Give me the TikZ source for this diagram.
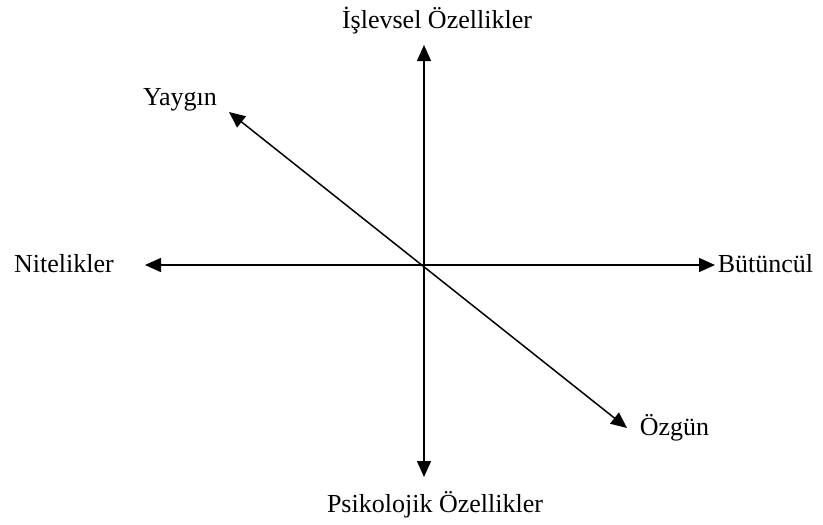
\documentclass[tikz,border=0pt]{standalone}
\usepackage{fontspec}
\setmainfont{Liberation Serif}
\usetikzlibrary{arrows.meta,positioning}

\begin{document}
\begin{tikzpicture}[x=1pt,y=-1pt,>={Triangle[length=16pt,width=14pt]},
  axis/.style={<->,line width=1.5pt},
  lbl/.style={font=\fontsize{26}{30}\selectfont,inner sep=0pt,anchor=base}]
\useasboundingbox (0,0) rectangle (823,525);
\coordinate (o) at (424,265);
% axis tips
\coordinate (up) at (424,45);
\coordinate (down) at (424,477);
\coordinate (left) at (145,265);
\coordinate (right) at (715,265);
\coordinate (ul) at (229,112);
\coordinate (dr) at (627,428);
\draw[axis] (up) -- (down);
\draw[axis] (left) -- (right);
\draw[axis] (ul) -- (dr);
% labels
\node[lbl] (islev) at (437,28) {İşlevsel Özellikler};
\node[lbl] (psiko) at (435,512) {Psikolojik Özellikler};
\node[lbl] (nitel) at (64,272) {Nitelikler};
\node[lbl] (butun) at (765.5,272) {Bütüncül};
\node[lbl] (yaygin) at (180,105) {Yaygın};
\node[lbl] (ozgun) at (674.5,435) {Özgün};
\end{tikzpicture}
\end{document}
